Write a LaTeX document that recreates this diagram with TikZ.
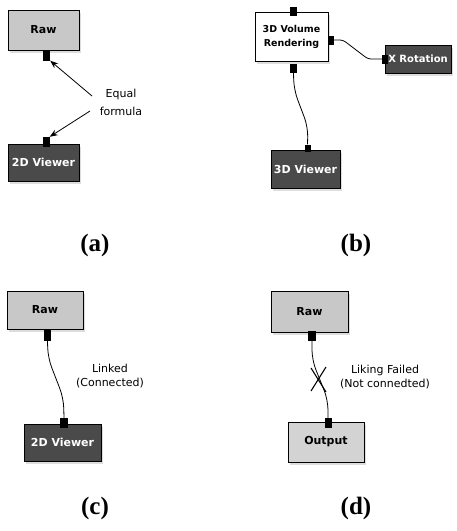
\documentclass[tikz,border=0pt]{standalone}
\usepackage{fontspec}
\setmainfont{Liberation Serif}
\newfontfamily\uifont{DejaVu Sans}
\usetikzlibrary{arrows.meta,shadows}
\definecolor{lightbox}{HTML}{C8C8C8}
\definecolor{darkbox}{HTML}{4A4A4A}
\tikzset{
  modbox/.style={draw=black, line width=1pt, inner sep=0pt, align=center,
    font=\uifont\bfseries\fontsize{11}{13}\selectfont,
    drop shadow={shadow xshift=2pt, shadow yshift=-3pt, fill=gray!45, opacity=0.6}},
  lightmod/.style={modbox, fill=lightbox, text=black},
  darkmod/.style={modbox, fill=darkbox, text=white},
  whitemod/.style={modbox, fill=white, text=black},
  port/.style={fill=black, draw=none, inner sep=0pt},
  wire/.style={draw=black, line width=0.8pt, rounded corners=6pt},
  note/.style={font=\uifont\fontsize{11}{14}\selectfont, align=center, inner sep=0pt},
  callout/.style={draw=black, line width=0.8pt, -{Stealth[length=8pt,width=6pt]}},
  panellabel/.style={font=\bfseries\fontsize{25}{28}\selectfont, inner sep=0pt}
}
\begin{document}
\begin{tikzpicture}[x=1pt, y=-1pt]
\useasboundingbox (0,0) rectangle (456,531);
% ---------------- (a)
\node[lightmod, minimum width=71pt, minimum height=40pt] (rawa) at (43.5,30) {Raw};
\node[port, minimum width=7pt, minimum height=10pt] (rawaout) at (46.5,55.5) {};
\node[darkmod, minimum width=71pt, minimum height=37pt] (viewa) at (43.5,162.5) {2D Viewer};
\node[port, minimum width=7pt, minimum height=10pt] (viewain) at (46,142) {};
\node[note, font=\uifont\fontsize{11}{18}\selectfont] (eqa) at (121,102) {Equal\\formula};
\coordinate (eqa1) at (92,96);
\coordinate (eqa2) at (90,111);
\draw[callout] (eqa1) -- (rawaout.south east);
\draw[callout] (eqa2) -- (viewain.north east);
\node[panellabel] (la) at (95,245) {(a)};
% ---------------- (b)
\node[whitemod, minimum width=73pt, minimum height=49pt, font=\uifont\bfseries\fontsize{9.5}{14}\selectfont] (vr) at (291.5,36.5) {3D Volume\\Rendering};
\node[port, minimum width=7pt, minimum height=9pt] (vrtop) at (293,11.5) {};
\node[port, minimum width=6pt, minimum height=9pt] (vrright) at (331,40) {};
\node[port, minimum width=7pt, minimum height=9pt] (vrbot) at (293.5,68.5) {};
\node[darkmod, minimum width=66pt, minimum height=28pt, font=\uifont\bfseries\fontsize{10}{12}\selectfont] (xrot) at (418,59) {X Rotation};
\node[port, minimum width=6pt, minimum height=9pt] (xrotin) at (385,59) {};
\node[darkmod, minimum width=69pt, minimum height=38pt] (view3) at (305.5,169) {3D Viewer};
\node[port, minimum width=6pt, minimum height=7pt] (view3in) at (307.5,148) {};
\draw[wire, rounded corners=3pt] (vrright.east) -- (343,40) -- (368,59) -- (xrotin.west);
\draw[wire, rounded corners=10pt] (vrbot.south) -- (294,90) -- (308,127) -- (view3in.north);
\node[panellabel] (lb) at (356,245) {(b)};
% ---------------- (c)
\node[lightmod, minimum width=76pt, minimum height=38pt] (rawc) at (45,310) {Raw};
\node[port, minimum width=7pt, minimum height=11pt] (rawcout) at (47.5,335.5) {};
\node[darkmod, minimum width=77pt, minimum height=37pt] (viewc) at (62.5,442.5) {2D Viewer};
\node[port, minimum width=8pt, minimum height=10pt] (viewcin) at (64,423) {};
\draw[wire, rounded corners=10pt] (rawcout.south) -- (48,358) -- (63.5,398) -- (viewcin.north);
\node[note] (linked) at (110,376) {Linked\\(Connected)};
\node[panellabel] (lc) at (95,508) {(c)};
% ---------------- (d)
\node[lightmod, minimum width=77pt, minimum height=41pt] (rawd) at (309.5,311.5) {Raw};
\node[port, minimum width=8pt, minimum height=10pt] (rawdout) at (312,336) {};
\node[lightmod, fill=lightbox!80, minimum width=76pt, minimum height=40pt] (outd) at (326,442) {Output};
\node[port, minimum width=7pt, minimum height=10pt] (outdin) at (328,423) {};
\draw[wire, rounded corners=10pt] (rawdout.south) -- (312,360) -- (328,400) -- (outdin.north);
\coordinate (xa) at (311,368);
\coordinate (xb) at (326,392);
\coordinate (xc) at (326,367);
\coordinate (xd) at (311,391);
\draw[line width=1.1pt] (xa) -- (xb);
\draw[line width=1.1pt] (xc) -- (xd);
\node[note] (failed) at (385,377) {Liking Failed\\(Not connedted)};
\node[panellabel] (ld) at (356,508) {(d)};
\end{tikzpicture}
\end{document}
